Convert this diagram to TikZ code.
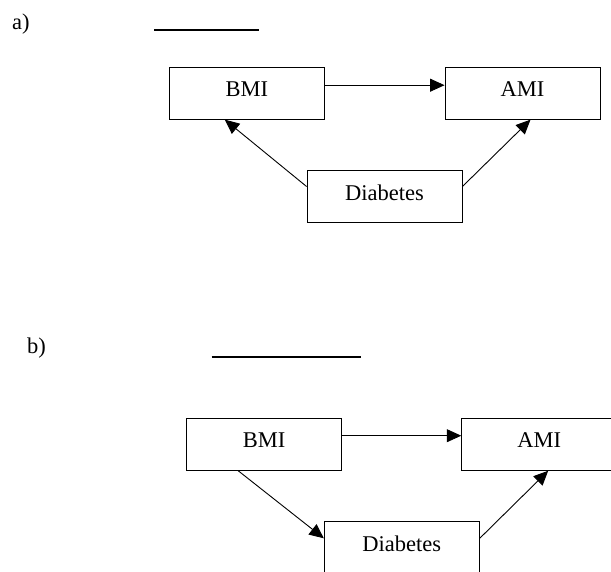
\documentclass[tikz,border=0pt]{standalone}
\usepackage{fontspec}
\setmainfont{Liberation Serif}
\usetikzlibrary{arrows.meta}
\tikzset{
  box/.style={draw, line width=0.9pt, minimum width=155pt, minimum height=52pt, inner sep=0pt,
    text height=16pt, text depth=9pt, font=\fontsize{22.5}{27}\selectfont},
  conn/.style={line width=0.9pt, -{Triangle[length=14.5pt,width=13pt]}},
  lbl/.style={anchor=base west, inner sep=0pt, font=\fontsize{22.5}{27}\selectfont},
  blank/.style={line width=2pt}
}
\begin{document}
\begin{tikzpicture}[x=1pt,y=-1pt]
\useasboundingbox (0,0) rectangle (611,571);
\clip (0,0) rectangle (611,571);
% panel a
\node[lbl] (la) at (12,29) {a)};
\coordinate (ua1) at (154,30);
\coordinate (ua2) at (259,30);
\draw[blank] (ua1) -- (ua2);
\node[box] (bmiA) at (246.8,93.2) {BMI};
\node[box] (amiA) at (522.5,93.2) {AMI};
\node[box] (diaA) at (384.5,196.5) {Diabetes};
\draw[conn] ([yshift=8pt]bmiA.east) -- ([yshift=8pt]amiA.west);
\draw[conn] ([yshift=10pt]diaA.west) -- ([xshift=-22pt]bmiA.south);
\draw[conn] ([yshift=10pt]diaA.east) -- ([xshift=8pt]amiA.south);
% panel b
\node[lbl] (lb) at (27,353) {b)};
\coordinate (ub1) at (211.7,356.7);
\coordinate (ub2) at (361,356.7);
\draw[blank] (ub1) -- (ub2);
\node[box] (bmiB) at (264.2,444.3) {BMI};
\node[box] (amiB) at (539.2,444.3) {AMI};
\node[box] (diaB) at (401.8,547.7) {Diabetes};
\draw[conn] ([yshift=8.6pt]bmiB.east) -- ([yshift=8.6pt]amiB.west);
\draw[conn] ([xshift=-26pt]bmiB.south) -- ([yshift=9.4pt]diaB.west);
\draw[conn] ([yshift=9.4pt]diaB.east) -- ([xshift=9pt]amiB.south);
\end{tikzpicture}
\end{document}
